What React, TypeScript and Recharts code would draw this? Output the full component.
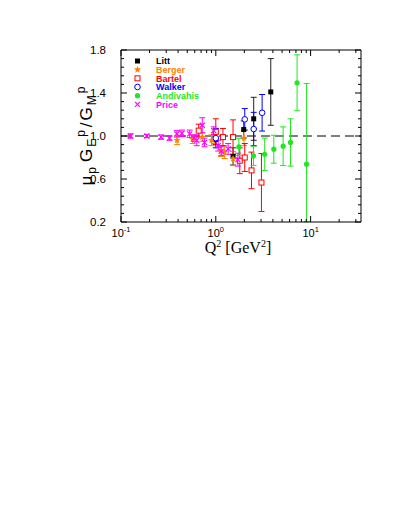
import { ScatterChart, Scatter, XAxis, YAxis, ErrorBar, ReferenceLine } from 'recharts';

// Q^2 [GeV^2], ratio, error
const littQ = [1.0, 1.52, 1.97, 2.51, 3.8];
const littV = [0.97, 0.81, 1.06, 1.16, 1.41];
const littE = [0.05, 0.08, 0.08, 0.2, 0.31];

const bergerQ = [0.39, 0.57, 0.72, 0.9, 0.97, 1.14, 1.24, 1.52, 1.98];
const bergerV = [0.96, 0.97, 0.99, 0.96, 0.98, 0.86, 0.85, 0.79, 0.98];
const bergerE = [0.04, 0.04, 0.04, 0.05, 0.05, 0.05, 0.06, 0.065, 0.07];

const bartelQ = [0.66, 1.0, 1.19, 1.52, 1.79, 2.02, 2.38, 3.03];
const bartelV = [1.05, 1.04, 0.99, 0.99, 0.77, 0.8, 0.68, 0.567];
const bartelE = [0.06, 0.12, 0.08, 0.16, 0.12, 0.13, 0.17, 0.27];

const walkerQ = [1.0, 2.02, 2.51, 3.08];
const walkerV = [0.98, 1.155, 1.065, 1.216];
const walkerE = [0.09, 0.1, 0.155, 0.17];

const andivahisQ = [1.75, 2.5, 3.28, 4.09, 5.13, 6.14, 7.2, 9.07];
const andivahisV = [0.9, 0.815, 0.83, 0.877, 0.905, 0.94, 1.495, 0.738];
const andivahisE: (number | number[])[] = [0.08, 0.09, 0.15, 0.13, 0.18, 0.22, 0.26, [0.535, 0.75]];

const priceQ = [0.126, 0.187, 0.265, 0.325, 0.388, 0.44, 0.53, 0.59, 0.63, 0.72, 0.76, 0.95, 1.06, 1.14, 1.35, 1.71];
const priceV = [1.0, 1.0, 0.99, 0.98, 1.02, 1.025, 1.02, 0.98, 0.96, 1.1, 0.94, 1.05, 0.91, 0.86, 0.88, 0.78];
const priceE = [0.02, 0.015, 0.02, 0.02, 0.03, 0.03, 0.035, 0.03, 0.05, 0.07, 0.04, 0.035, 0.05, 0.04, 0.05, 0.06];

const xTicks = [0.1, 0.2, 0.3, 0.4, 0.5, 0.6, 0.7, 0.8, 0.9, 1, 2, 3, 4, 5, 6, 7, 8, 9, 10, 20, 30];
const xMajor = [0.1, 1, 10];
const xLabels = ['-1', '0', '1'];
const yTicks = [0.2, 0.28, 0.36, 0.44, 0.52, 0.6, 0.68, 0.76, 0.84, 0.92, 1.0, 1.08, 1.16, 1.24, 1.32, 1.4, 1.48, 1.56, 1.64, 1.72, 1.8];
const yMajor = [0.2, 0.6, 1.0, 1.4, 1.8];

const build = (q: number[], v: number[], e: any[]) => q.map((x, i) => ({ q: x, v: v[i], e: e[i] }));

const series = [
  { name: 'Litt', color: '#000000', bar: '#222222', kind: 'square', data: build(littQ, littV, littE) },
  { name: 'Berger', color: '#ff8000', bar: '#ff8000', kind: 'star', data: build(bergerQ, bergerV, bergerE) },
  { name: 'Bartel', color: '#ff0000', bar: '#ff0000', kind: 'osquare', data: build(bartelQ, bartelV, bartelE) },
  { name: 'Walker', color: '#0000ff', bar: '#0000ff', kind: 'ocircle', data: build(walkerQ, walkerV, walkerE) },
  { name: 'Andivahis', color: '#1ee81e', bar: '#1ee81e', kind: 'dot', data: build(andivahisQ, andivahisV, andivahisE) },
  { name: 'Price', color: '#ff00ff', bar: '#ff00ff', kind: 'x', data: build(priceQ, priceV, priceE) },
];

const FONT = '"Liberation Sans", Arial, sans-serif';
const isMajor = (list: number[], v: number) => list.some((m) => Math.abs(m - v) < 1e-6);

function starPoints(cx: number, cy: number, r: number, r2: number) {
  const pts: string[] = [];
  for (let i = 0; i < 10; i++) {
    const a = -Math.PI / 2 + (i * Math.PI) / 5;
    const rr = i % 2 === 0 ? r : r2;
    pts.push(`${cx + rr * Math.cos(a)},${cy + rr * Math.sin(a)}`);
  }
  return pts.join(' ');
}

function Marker({ kind, cx, cy, color }: { kind: string; cx: number; cy: number; color: string }) {
  if (cx == null || cy == null) return null;
  switch (kind) {
    case 'square':
      return <rect x={cx - 2.5} y={cy - 2.5} width={5} height={5} fill={color} />;
    case 'star':
      return <polygon points={starPoints(cx, cy, 3.8, 1.6)} fill={color} />;
    case 'osquare':
      return <rect x={cx - 2.5} y={cy - 2.5} width={5} height={5} fill="#fff" stroke={color} strokeWidth={1} />;
    case 'ocircle':
      return <circle cx={cx} cy={cy} r={2.8} fill="#fff" stroke={color} strokeWidth={1} />;
    case 'dot':
      return <circle cx={cx} cy={cy} r={2.6} fill={color} />;
    default:
      return (
        <g stroke={color} strokeWidth={1.2}>
          <line x1={cx - 2.5} y1={cy - 2.5} x2={cx + 2.5} y2={cy + 2.5} />
          <line x1={cx - 2.5} y1={cy + 2.5} x2={cx + 2.5} y2={cy - 2.5} />
        </g>
      );
  }
}

const BottomTick = (props: any) => {
  const { x, y, payload } = props;
  const major = isMajor(xMajor, payload.value);
  const idx = xMajor.findIndex((m) => Math.abs(m - payload.value) < 1e-6);
  return (
    <g>
      <line x1={x} y1={y} x2={x} y2={y - (major ? 6 : 3)} stroke="#000" />
      {major && (
        <text x={x} y={y + 15} textAnchor="middle" fontFamily={FONT} fontSize={11} fill="#000">
          10<tspan dy={-5} fontSize={7.5}>{xLabels[idx]}</tspan>
        </text>
      )}
    </g>
  );
};

const TopTick = (props: any) => {
  const { x, y, payload } = props;
  const major = isMajor(xMajor, payload.value);
  return <line x1={x} y1={y} x2={x} y2={y + (major ? 6 : 3)} stroke="#000" />;
};

const LeftTick = (props: any) => {
  const { x, y, payload } = props;
  const major = isMajor(yMajor, payload.value);
  return (
    <g>
      <line x1={x} y1={y} x2={x + (major ? 6 : 3)} y2={y} stroke="#000" />
      {major && (
        <text x={x - 15} y={y + 4} textAnchor="end" fontFamily={FONT} fontSize={11.5} fill="#000">
          {payload.value.toFixed(1)}
        </text>
      )}
    </g>
  );
};

const RightTick = (props: any) => {
  const { x, y, payload } = props;
  const major = isMajor(yMajor, payload.value);
  return <line x1={x} y1={y} x2={x - (major ? 6 : 3)} y2={y} stroke="#000" />;
};

export default function App() {
  const W = 390;
  const H = 260;
  return (
    <div style={{ position: 'relative', width: W, height: H }}>
      <ScatterChart width={W} height={H} margin={{ top: 41, right: 36, bottom: 16, left: 0 }}>
        <XAxis xAxisId="b" dataKey="q" type="number" scale="log" domain={[0.1, 34]} allowDataOverflow
          ticks={xTicks} interval={0} tick={<BottomTick />} tickLine={false} tickSize={0} tickMargin={0}
          height={30} stroke="#000" />
        <XAxis xAxisId="t" orientation="top" dataKey="q" type="number" scale="log" domain={[0.1, 34]} allowDataOverflow
          ticks={xTicks} interval={0} tick={<TopTick />} tickLine={false} tickSize={0} tickMargin={0}
          height={1} stroke="#000" />
        <YAxis yAxisId="l" dataKey="v" type="number" domain={[0.2, 1.8]} allowDataOverflow
          ticks={yTicks} interval={0} tick={<LeftTick />} tickLine={false} tickSize={0} tickMargin={0}
          width={113} stroke="#000" />
        <YAxis yAxisId="r" orientation="right" dataKey="v" type="number" domain={[0.2, 1.8]} allowDataOverflow
          ticks={yTicks} interval={0} tick={<RightTick />} tickLine={false} tickSize={0} tickMargin={0}
          width={1} stroke="#000" />
        <ReferenceLine xAxisId="b" yAxisId="l" y={1} stroke="#000" strokeWidth={1} strokeDasharray="9 5" />
        {series.map((s) => (
          <Scatter key={s.name} name={s.name} data={s.data} xAxisId="b" yAxisId="l" isAnimationActive={false}
            shape={(p: any) => <Marker kind={s.kind} cx={p.cx} cy={p.cy} color={s.color} />}>
            <ErrorBar dataKey="e" direction="y" width={3} stroke={s.bar} strokeWidth={1} isAnimationActive={false} />
          </Scatter>
        ))}
      </ScatterChart>
      <svg width={W} height={H} style={{ position: 'absolute', left: 0, top: 0, pointerEvents: 'none' }}>
        {series.map((s, i) => {
          const cy = 53 + i * 8.66;
          return (
            <g key={s.name}>
              <Marker kind={s.kind} cx={129.5} cy={cy} color={s.color} />
              <text x={148} y={cy + 3.2} fontFamily={FONT} fontWeight="bold" fontSize={9} fill={s.color}>{s.name}</text>
            </g>
          );
        })}
        <text transform="translate(84,128) rotate(-90)" textAnchor="middle" fontFamily={FONT} fontSize={17} fill="#000">
          μ<tspan dy={4} dx={2} fontSize={12}>p</tspan>
          <tspan dy={-4} dx={5}>G</tspan>
          <tspan dy={4} dx={2} fontSize={12}>E</tspan>
          <tspan dy={-11} dx={2} fontSize={12}>p</tspan>
          <tspan dy={7} dx={3}>/</tspan>
          <tspan dx={2}>G</tspan>
          <tspan dy={4} dx={2} fontSize={12}>M</tspan>
          <tspan dy={-11} dx={2} fontSize={12}>p</tspan>
        </text>
        <text x={230} y={245} textAnchor="middle" fontFamily='"Liberation Serif", serif' fontSize={16} fill="#000">
          Q<tspan dy={-6} fontSize={10}>2</tspan>
          <tspan dy={6}>{'\u00a0[GeV'}</tspan>
          <tspan dy={-6} fontSize={10}>2</tspan>
          <tspan dy={6}>]</tspan>
        </text>
      </svg>
    </div>
  );
}
